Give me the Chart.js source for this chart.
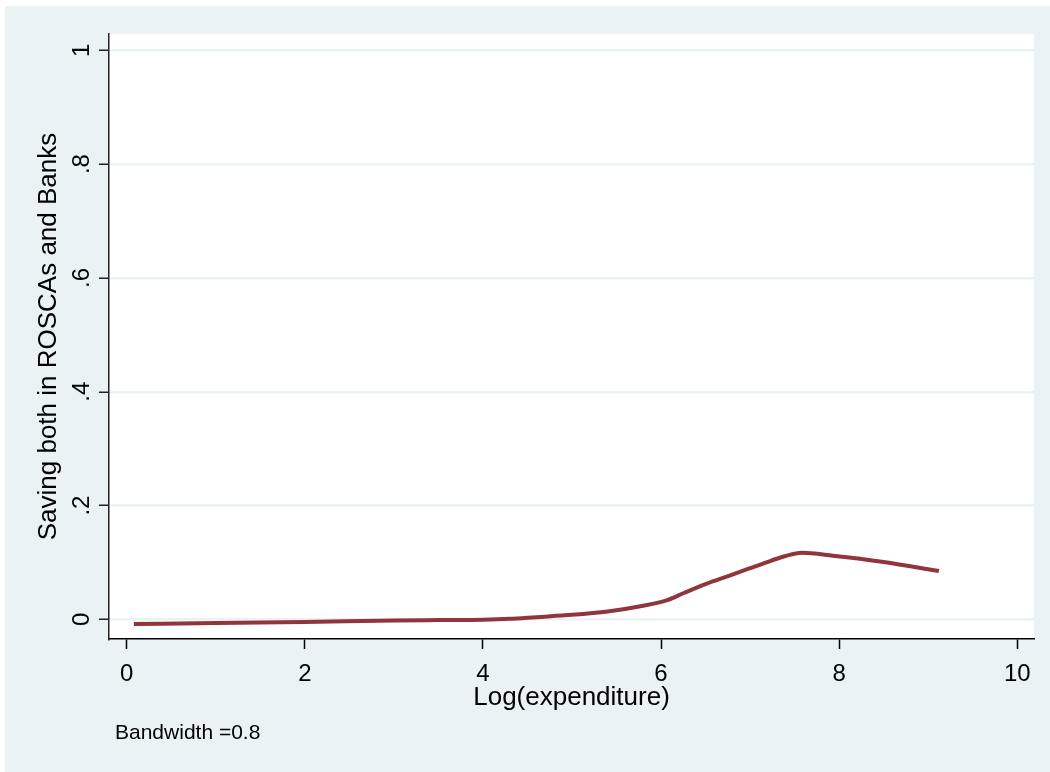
<!DOCTYPE html>
<html>
<head>
<meta charset="utf-8">
<script src="https://cdn.jsdelivr.net/npm/chart.js@4.4.1/dist/chart.umd.min.js"></script>
<style>
  html, body { margin: 0; padding: 0; background: #fff; }
  canvas { display: block; }
</style>
</head>
<body>
<canvas id="lowessChart" width="1050" height="772"></canvas>
<script>
// lowess curve: log(expenditure) vs share saving in both ROSCAs and banks
var logExpenditure = [0.08, 1.0, 2.0, 3.0, 3.5, 4.0, 4.3, 4.6, 5.0, 5.4, 5.8, 6.07, 6.25, 6.5, 6.77, 7.0, 7.16, 7.39, 7.58, 7.93, 8.5, 9.12];
var savingBoth = [-0.008, -0.0065, -0.0045, -0.002, -0.0012, -0.0005, 0.001, 0.004, 0.008, 0.014, 0.024, 0.034, 0.046, 0.062, 0.077, 0.090, 0.099, 0.111, 0.117, 0.112, 0.101, 0.085];

var xTicks = [0, 2, 4, 6, 8, 10];
var yTicks = [0, 0.2, 0.4, 0.6, 0.8, 1];
var yTickLabels = ["0", ".2", ".4", ".6", ".8", "1"];

var noteText = "Bandwidth =0.8";
var bgColor = "#EAF2F3";
var lineColor = "#90353B";
var fontFamily = "'Liberation Sans', Arial, Helvetica, sans-serif";

var points = logExpenditure.map(function(x, i) {
    return { x: x, y: savingBoth[i] };
});

// stata-like background, rotated y labels and the note
var stataLook = {
    id: 'stataLook',
    beforeDraw: function(chart) {
        var ctx = chart.ctx;
        var area = chart.chartArea;
        ctx.save();
        ctx.fillStyle = '#fff';
        ctx.fillRect(0, 0, chart.width, chart.height);
        ctx.fillStyle = bgColor;
        ctx.fillRect(5, 6, chart.width - 5, chart.height - 6);
        ctx.fillStyle = '#fff';
        ctx.fillRect(area.left, area.top, area.right - area.left, area.bottom - area.top);
        ctx.restore();
    },
    afterDraw: function(chart) {
        var ctx = chart.ctx;
        var yScale = chart.scales.y;
        ctx.save();
        ctx.fillStyle = '#000';
        ctx.font = '24px ' + fontFamily;
        ctx.textAlign = 'center';
        ctx.textBaseline = 'alphabetic';
        yTicks.forEach(function(v, i) {
            ctx.save();
            ctx.translate(89, yScale.getPixelForValue(v));
            ctx.rotate(-Math.PI / 2);
            ctx.fillText(yTickLabels[i], 0, 0);
            ctx.restore();
        });
        ctx.font = '21px ' + fontFamily;
        ctx.textAlign = 'left';
        ctx.fillText(noteText, 115, 739);
        ctx.restore();
    }
};

var ctxL = document.getElementById("lowessChart").getContext('2d');
var myLowessChart = new Chart(ctxL, {
    type: 'line',
    data: {
        datasets: [{
            label: "lowess",
            data: points,
            borderColor: lineColor,
            borderWidth: 4,
            pointRadius: 0,
            fill: false,
            cubicInterpolationMode: 'monotone'
        }]
    },
    options: {
        responsive: false,
        animation: false,
        layout: {
            padding: { left: 0, top: 34, right: 16, bottom: 0 }
        },
        plugins: {
            legend: { display: false },
            tooltip: { enabled: false }
        },
        scales: {
            x: {
                type: 'linear',
                min: -0.199,
                max: 10.188,
                afterBuildTicks: function(scale) {
                    scale.ticks = xTicks.map(function(v) { return { value: v }; });
                },
                afterFit: function(scale) { scale.height = 133; },
                grid: {
                    drawOnChartArea: false,
                    drawTicks: true,
                    tickLength: 10,
                    tickColor: '#000',
                    tickWidth: 1.5
                },
                border: { color: '#000', width: 1.5 },
                ticks: {
                    color: '#000',
                    padding: 11,
                    maxRotation: 0,
                    font: { family: fontFamily, size: 24 },
                    callback: function(v) { return String(v); }
                },
                title: {
                    display: true,
                    text: "Log(expenditure)",
                    color: '#000',
                    font: { family: fontFamily, size: 26 },
                    padding: { top: 0, bottom: 59 }
                }
            },
            y: {
                type: 'linear',
                min: -0.0344,
                max: 1.0286,
                afterBuildTicks: function(scale) {
                    scale.ticks = yTicks.map(function(v) { return { value: v }; });
                },
                afterFit: function(scale) { scale.width = 109; },
                grid: {
                    color: bgColor,
                    lineWidth: 2.5,
                    drawTicks: true,
                    tickLength: 10,
                    tickColor: '#222',
                    tickWidth: 1.5
                },
                border: { color: '#222', width: 1.5 },
                ticks: { display: false },
                title: {
                    display: true,
                    text: "Saving both in ROSCAs and Banks",
                    color: '#000',
                    font: { family: fontFamily, size: 26 },
                    padding: { top: 33, bottom: 0 }
                }
            }
        }
    },
    plugins: [stataLook]
});
</script>
</body>
</html>
